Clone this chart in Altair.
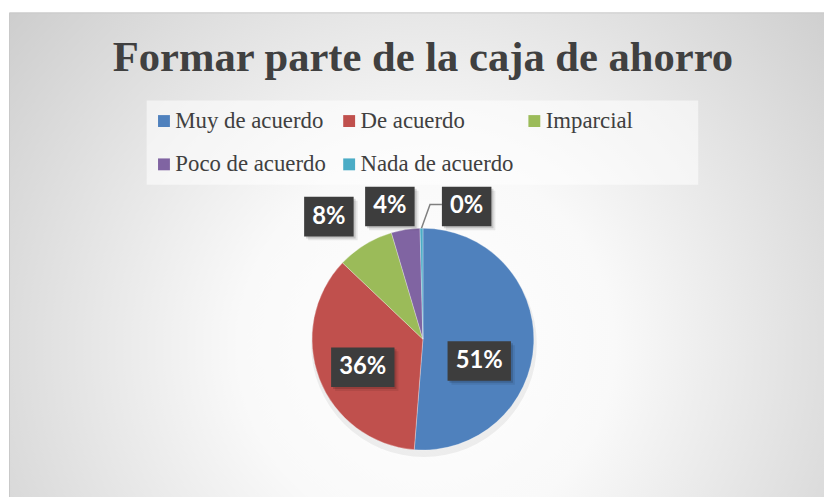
import math
import altair as alt
import pandas as pd

TITLE = "Formar parte de la caja de ahorro"
CATEGORIES = ["Muy de acuerdo", "De acuerdo", "Imparcial", "Poco de acuerdo", "Nada de acuerdo"]
COUNTS = [123, 86, 20, 10, 1]
COLORS = ["#4F81BD", "#C0504D", "#9BBB59", "#8064A2", "#4BACC6"]

# layout (label placement as Excel placed them)
LABEL_RADIUS = [61, 67, 156, 138, 141]
LABEL_SHIFT = [19, -4, -6, -5, 19]

W, H = 824, 489
CX, CY, R = 419, 332, 112

total = sum(COUNTS)
pcts = [c / total for c in COUNTS]
labels = [f"{round(p * 100):.0f}%" for p in pcts]

rows = []
cum = 0.0
for i, (cat, c, p, lab) in enumerate(zip(CATEGORIES, COUNTS, pcts, labels)):
    start = cum * 360
    cum += p
    end = cum * 360
    mid = (start + end) / 2
    a = math.radians(mid + LABEL_SHIFT[i])
    lx = CX + LABEL_RADIUS[i] * math.sin(a)
    ly = CY - LABEL_RADIUS[i] * math.cos(a)
    bw = 22 + 14 * len(lab)
    bh = 40
    rows.append(dict(cat=cat, value=c, idx=i, label=lab, mid=mid,
                     lx=lx, ly=ly, x0=lx - bw / 2, x1=lx + bw / 2,
                     y0=ly - bh / 2, y1=ly + bh / 2))
df = pd.DataFrame(rows)

# leader line for the smallest slice
t = df.iloc[4]
am = math.radians(t["mid"])
leader = pd.DataFrame({
    "px": [t["x0"], t["x0"] - 12, CX + R * math.sin(am)],
    "py": [t["ly"] - 2, t["ly"] - 2, CY - R * math.cos(am)],
    "o": [0, 1, 2],
})

one = pd.DataFrame({"a": [0]})

bg = alt.Chart(one).mark_rect(
    fill={"gradient": "radial",
          "stops": [{"offset": 0, "color": "#ffffff"},
                    {"offset": 0.3, "color": "#f9f9f9"},
                    {"offset": 1, "color": "#c2c2c2"}],
          "x1": 0.5, "y1": 0.6, "r1": 0, "x2": 0.5, "y2": 0.6, "r2": 0.75},
    stroke="#c8c8c8", strokeWidth=1,
).encode(x=alt.value(1.5), x2=alt.value(W + 20), y=alt.value(2.5), y2=alt.value(H + 20))

legend_bg = alt.Chart(one).mark_rect(fill="#ffffff", opacity=0.55).encode(
    x=alt.value(140), x2=alt.value(697), y=alt.value(91), y2=alt.value(176)
)

title = alt.Chart(pd.DataFrame({"t": [TITLE]})).mark_text(
    font="Liberation Serif", fontWeight="bold", fontSize=43, color="#404040",
    align="center", baseline="alphabetic",
).encode(text="t:N", x=alt.value(CX), y=alt.value(61))

shadow = alt.Chart(one).mark_arc(
    theta=0, theta2=2 * math.pi, outerRadius=R + 2, color="#000000", opacity=0.06
).encode(x=alt.value(CX + 1), y=alt.value(CY + 5))

pie = alt.Chart(df).mark_arc(outerRadius=R, stroke="#ffffff", strokeWidth=0.3).encode(
    theta=alt.Theta("value:Q", stack=True),
    order=alt.Order("idx:Q"),
    color=alt.Color("cat:N",
                    scale=alt.Scale(domain=CATEGORIES, range=COLORS),
                    legend=alt.Legend(
                        title=None, orient="none", legendX=137, legendY=91,
                        direction="horizontal", columns=3, gridAlign="all",
                        symbolType="square", symbolSize=144, symbolStrokeWidth=0,
                        labelFont="Liberation Serif", labelFontSize=23,
                        labelColor="#404040", labelOffset=0, labelLimit=0,
                        columnPadding=9, rowPadding=20, padding=9,
                    )),
    x=alt.value(CX), y=alt.value(CY),
)

line = alt.Chart(leader).mark_line(color="#7f7f7f", strokeWidth=1.5).encode(
    x=alt.X("px:Q", scale=None), y=alt.Y("py:Q", scale=None), order="o:Q"
)


def box_shadow(off, op):
    return alt.Chart(df).mark_rect(color="#000000", opacity=op).encode(
        x=alt.X("sx0:Q", scale=None), x2="sx1:Q", y=alt.Y("sy0:Q", scale=None), y2="sy1:Q",
    ).transform_calculate(
        sx0=f"datum.x0 + {off}", sx1=f"datum.x1 + {off}",
        sy0=f"datum.y0 + {off}", sy1=f"datum.y1 + {off}")


boxes = alt.Chart(df).mark_rect(color="#3d3d3d").encode(
    x=alt.X("x0:Q", scale=None), x2="x1:Q", y=alt.Y("y0:Q", scale=None), y2="y1:Q",
)

texts = alt.Chart(df).mark_text(
    font="Lato", fontWeight="bold", fontSize=24, color="#ffffff",
    align="center", baseline="middle",
).encode(x=alt.X("lx:Q", scale=None), y=alt.Y("ly:Q", scale=None), text="label:N")

chart = alt.layer(bg, legend_bg, title, shadow, pie, line,
                  box_shadow(4, 0.08), box_shadow(2, 0.15), boxes, texts).properties(
    width=W, height=H, padding=0, autosize=alt.AutoSizeParams(type="none"),
).configure_view(stroke=None)

chart.save("out.html", embed_options={"renderer": "svg", "actions": False})
